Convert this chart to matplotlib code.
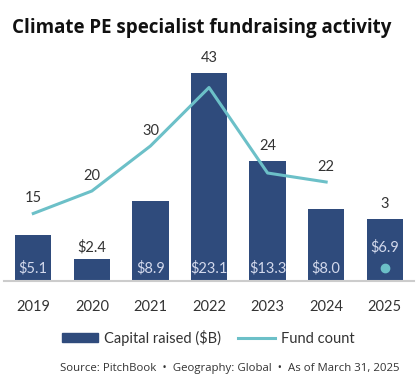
import matplotlib
matplotlib.use("Agg")
import matplotlib.pyplot as plt
from matplotlib.lines import Line2D
from matplotlib.patches import Patch

years = ["2019", "2020", "2021", "2022", "2023", "2024", "2025"]
capital = [5.1, 2.4, 8.9, 23.1, 13.3, 8.0, 6.9]
capital_labels = ["$5.1", "$2.4", "$8.9", "$23.1", "$13.3", "$8.0", "$6.9"]
fund_count = [15, 20, 30, 43, 24, 22, 3]

BAR = "#2f4b7c"
TEAL = "#6cc0c8"
TXT = "#333333"
INNER = "#d3d9ec"
narrow = ["Lato", "DejaVu Sans"]
FS = 10.5

fig = plt.figure(figsize=(4.2, 3.87), dpi=100)
ax = fig.add_axes([4/420, (387-281)/387, 410/420, (281-50)/387])
ax2 = ax.twinx()
ymax = 231/9.0
ax.set_ylim(0, ymax)
ax2.set_ylim(0, ymax*2)
x = list(range(len(years)))
ax.set_xlim(-0.5, len(years)-0.5)
ax.bar(x, capital, width=0.62, color=BAR, zorder=1)
ax2.plot(x[:6], fund_count[:6], color=TEAL, lw=2.2, zorder=3)
ax2.plot(x[6], fund_count[6], 'o', color=TEAL, ms=6, zorder=3)

for a in (ax, ax2):
    for s in ["top", "right", "left"]:
        a.spines[s].set_visible(False)
    a.set_yticks([])
ax2.spines["bottom"].set_visible(False)
ax.spines["bottom"].set_color("#cccccc")
ax.spines["bottom"].set_linewidth(1.5)
ax.set_xticks(x)
ax.set_xticklabels(years, family=narrow, fontsize=FS, color=TXT)
ax.tick_params(axis="x", length=0, pad=14)

px = 0.72
for i in x:
    top_px = max(capital[i]*9.0, fund_count[i]*4.5)
    ax.annotate(str(fund_count[i]), (i, top_px/9.0), xytext=(0, 15*px), textcoords="offset points",
                ha="center", va="center", fontsize=FS, color=TXT, family=narrow, zorder=5)
    if capital[i] < 4:
        ax.annotate(capital_labels[i], (i, capital[i]), xytext=(0, 12*px), textcoords="offset points",
                    ha="center", va="center", fontsize=FS, color=TXT, family=narrow, zorder=5)
    else:
        off = 34 if i == 6 else 13
        ax.annotate(capital_labels[i], (i, 0), xytext=(0, off*px), textcoords="offset points",
                    ha="center", va="center", fontsize=FS, color=INNER, family=narrow, zorder=5)

fig.text(12/420, 1-28/387, "Climate PE specialist fundraising activity", fontsize=13.5,
         fontweight="bold", color="#111111", family=["Open Sans", "DejaVu Sans"], va="center", ha="left")

handles = [Patch(color=BAR), Line2D([0], [0], color=TEAL, lw=2.2)]
fig.legend(handles, ["Capital raised ($B)", "Fund count"], loc="center", bbox_to_anchor=(208/420, 1-338/387),
           ncol=2, frameon=False, prop={"family": narrow, "size": FS}, labelcolor=TXT,
           handlelength=2.5, handleheight=0.6, columnspacing=1.2, handletextpad=0.4)

fig.text(230/420, 1-368/387, "Source: PitchBook  \u2022  Geography: Global  \u2022  As of March 31, 2025",
         fontsize=8.2, color=TXT, ha="center", va="center", family=["Open Sans", "DejaVu Sans"])

fig.savefig("out.png", dpi=100)
